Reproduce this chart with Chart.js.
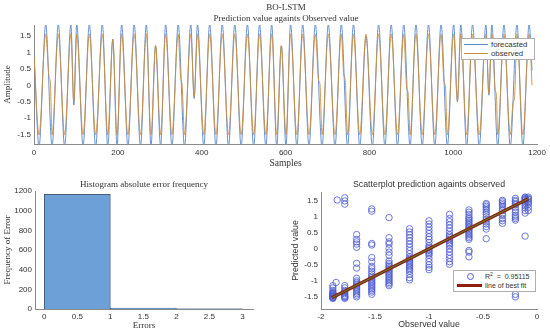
<!DOCTYPE html>
<html>
<head>
<meta charset="utf-8">
<script src="https://cdn.jsdelivr.net/npm/chart.js@4.4.1/dist/chart.umd.min.js"></script>
<style>
  body { margin:0; background:#fff; }
  #wrap { position:relative; width:550px; height:334px; overflow:hidden; background:#fff; }
  #wrap canvas { position:absolute; }
  .ttl { position:absolute; font-family:'Liberation Serif','Times New Roman',serif; font-size:9px; line-height:1; color:#333; white-space:nowrap; transform:translate(-50%,-50%); }
  .ttl.sans { font-family:'Liberation Sans',Arial,sans-serif; font-size:8.8px; }
  .leg { position:absolute; background:#fff; border:1px solid #b0b0b0; font-family:'Liberation Sans',Arial,sans-serif; color:#333; }
  .leg .row { position:relative; white-space:nowrap; }
  .leg .ln { position:absolute; }
</style>
</head>
<body>
<div id="wrap">
  <canvas id="chart-top" width="550" height="170" style="left:0;top:0"></canvas>
  <canvas id="chart-hist" width="275" height="164" style="left:0;top:170px"></canvas>
  <canvas id="chart-scat" width="275" height="164" style="left:275px;top:170px"></canvas>

  <div class="ttl" style="left:286px;top:7px">BO-LSTM</div>
  <div class="ttl" style="left:286px;top:17.5px">Prediction value againts Observed value</div>
  <div class="ttl" style="left:144px;top:184px">Histogram absolute error frequency</div>
  <div class="ttl sans" style="left:429px;top:184px">Scatterplot prediction againts observed</div>

  <div class="leg" id="legend-top" style="left:461px;top:38px;width:72px;height:20px;font-size:7.8px"></div>
  <div class="leg" id="legend-scat" style="left:453px;top:270px;width:81px;height:20px;font-size:7px"></div>
</div>

<script>
// ── DATA ──
// top panel: turning points (sample index, amplitude)
var fcX = [0, 12, 28, 43, 58, 73, 88, 95, 102, 117, 132, 147, 163, 176, 188, 198, 209, 224, 239, 254, 268, 279, 290, 302,
           314, 329, 344, 359, 374, 382, 390, 405, 419, 434, 449, 464, 479, 494, 509, 524, 538, 553, 567, 579, 590, 601,
           612, 627, 641, 656, 671, 687, 702, 718, 733, 748, 762, 777, 792, 807, 822, 837, 852, 867, 882, 897, 911, 926,
           941, 956, 971, 986, 1001, 1010, 1018, 1032, 1046, 1062, 1078, 1085, 1092, 1106, 1121, 1136, 1152, 1166, 1181, 1188];
var fcY = [1.0, -1.85, 1.85, -1.85, 1.85, -1.85, 1.85, -0.6, 1.85, -1.85, 1.85, -1.85, 1.85, -1.85, 1.4, -1.85, 1.85, -1.85, 1.85, -1.85, 1.85, -1.85, 1.2, -1.85,
           1.85, -1.85, 1.85, -1.85, 1.85, -0.4, 1.85, -1.85, 1.85, -1.85, 1.85, -1.85, 1.85, -1.85, 1.85, -1.85, 1.85, -1.85, 1.85, -1.85, 1.2, -1.85,
           1.85, -1.85, 1.85, -1.85, 1.85, -1.85, 1.85, -1.85, 1.85, -1.85, 1.85, -1.85, 1.5, -1.85, 1.85, -1.85, 1.85, -1.85, 1.85, -1.85, 1.85, -1.85,
           1.85, -1.85, 1.85, -1.85, 1.85, -0.5, 1.85, -1.85, 1.85, -1.85, 1.85, -0.3, 1.85, -1.85, 1.85, -1.85, 1.85, -1.85, 1.85, 0.45];

var obX = [0, 12, 28, 36, 39, 43, 58, 73, 88, 95, 102, 117, 132, 147, 163, 176, 188, 198, 209, 224, 239, 254, 268, 279, 290, 302,
           314, 329, 344, 350, 353, 359, 374, 382, 390, 405, 419, 434, 449, 464, 479, 494, 509, 524, 538, 553, 567, 579, 590, 601,
           612, 627, 641, 656, 671, 679, 682, 687, 702, 718, 733, 739, 742, 748, 762, 777, 792, 807, 822, 837, 852, 867, 882, 889, 892, 897,
           911, 926, 941, 956, 971, 978, 981, 986, 1001, 1010, 1018, 1032, 1046, 1062, 1078, 1085, 1092, 1100, 1103, 1106, 1121, 1136,
           1143, 1146, 1152, 1166, 1181, 1188];
var obY = [0.9, -1.5, 1.55, 0.25, 0.1, -1.5, 1.55, -1.5, 1.55, -0.5, 1.55, -1.5, 1.55, -1.5, 1.55, -1.5, 1.4, -1.5, 1.55, -1.5, 1.55, -1.5, 1.55, -1.5, 1.2, -1.5,
           1.55, -1.5, 1.55, 0.2, 0.05, -1.5, 1.55, -0.35, 1.55, -1.5, 1.55, -1.5, 1.55, -1.5, 1.55, -1.5, 1.55, -1.5, 1.55, -1.5, 1.55, -1.5, 1.2, -1.5,
           1.55, -1.5, 1.55, -1.5, 1.55, 0.15, 0.05, -1.5, 1.55, -1.5, 1.55, 0.3, 0.2, -1.5, 1.55, -1.5, 1.55, -1.5, 1.55, -1.5, 1.55, -1.5, 1.55, -0.1, -0.2, -1.5,
           1.55, -1.5, 1.55, -1.5, 1.55, 0.1, 0.0, -1.5, 1.55, -0.45, 1.55, -1.5, 1.55, -1.5, 1.55, -0.25, 1.55, -0.15, -0.3, -1.5, 1.55, -1.5,
           -0.5, -0.4, 1.55, -1.5, 1.55, 0.0];

// histogram of absolute errors
var binCenters = [0.5, 1.5, 2.5];
var binCounts  = [1166, 10, 3];

// scatter: observed value columns and the predicted values seen in each column
var colX = [-1.89, -1.78, -1.67, -1.53, -1.37, -1.18, -1.0, -0.81, -0.63, -0.47, -0.32, -0.2, -0.11, -0.08];
var colPred = [
  [-1.15, -1.22, -1.3, -1.36, -1.42, -1.46, -1.5, -1.52, -1.55, -1.48, -1.44, -1.4, -1.38, -1.53],
  [1.6, 1.5, 1.4, -1.15, -1.22, -1.3, -1.35, -1.4, -1.45, -1.5, -1.52, -1.55, -1.48],
  [0.45, 0.3, 0.22, 0.15, 0.05, -0.45, -0.6, -0.92, -1.0, -1.05, -1.1, -1.15, -1.2, -1.25, -1.3, -1.35, -1.4, -1.45, -1.5],
  [1.25, 1.18, 0.17, 0.12, -0.27, -0.4, -0.55, -0.62, -0.7, -0.78, -0.85, -0.9, -0.95, -1.0, -1.05, -1.1, -1.15, -1.2, -1.25, -1.3, -1.35, -1.42],
  [0.98, 0.35, 0.22, 0.15, 0.02, -0.1, -0.2, -0.38, -0.45, -0.5, -0.55, -0.6, -0.65, -0.7, -0.75, -0.8, -0.85, -0.9, -0.95, -1.0, -1.05, -1.1, -1.15],
  [0.63, 0.53, 0.44, 0.35, 0.25, 0.15, 0.05, -0.05, -0.15, -0.25, -0.3, -0.35, -0.4, -0.45, -0.5, -0.55, -0.6, -0.65, -0.7, -0.8, -0.9, -0.97],
  [0.88, 0.78, 0.68, 0.58, 0.48, 0.38, 0.3, 0.2, 0.1, 0.05, 0.0, -0.05, -0.1, -0.15, -0.2, -0.3, -0.4, -0.5, -0.58, -0.65],
  [1.08, 0.95, 0.85, 0.75, 0.65, 0.55, 0.45, 0.4, 0.35, 0.3, 0.25, 0.2, 0.15, 0.1, 0.0, -0.1, -0.2, -0.3, -0.4, -0.48],
  [1.22, 1.15, 1.08, 1.0, 0.95, 0.9, 0.85, 0.8, 0.75, 0.7, 0.65, 0.6, 0.55, 0.5, 0.45, 0.4, 0.35, 0.3, -0.05, -0.1, -0.25],
  [1.42, 1.38, 1.33, 1.28, 1.22, 1.15, 1.08, 1.0, 0.92, 0.85, 0.78, 0.7, 0.62, 0.32],
  [1.52, 1.48, 1.43, 1.38, 1.33, 1.25, 1.2, 1.1, 1.05, 0.95, 0.88, 0.8],
  [1.58, 1.52, 1.48, 1.42, 1.38, 1.3, 1.22, 1.15, 1.05, 1.0, 0.95, 0.9, -1.42, -1.5],
  [1.62, 1.6, 1.57, 1.55, 1.52, 1.48, 1.42, 1.35, 1.28, 1.2, 1.12, 0.4],
  [1.62, 1.58, 1.55, 1.5, 1.45, 1.4, 1.3, 1.2]
];
var outX = [-1.85, -1.86];
var outY = [1.53, -1.05];

// best fit line end points, R^2 from the legend
var fitX = [-1.9, -0.08];
var fitY = [-1.53, 1.57];
var r2Text = '0.95115';

// ── STYLE ──
var SERIF = "'Liberation Serif', 'Times New Roman', serif";
var SANS  = "'Liberation Sans', Arial, sans-serif";
var AX = '#8a8a8a';
var C_FC = 'rgb(86,134,204)', C_OB = 'rgb(204,142,62)';
var C_BAR = 'rgb(108,160,215)', C_EDGE = '#3b4763';
var C_PT = '#4a5ad0', C_FIT = '#8e1f0d', C_FIT2 = '#5b8a2e';

Chart.defaults.animation = false;
Chart.defaults.font.family = SANS;
Chart.defaults.font.size = 8;
Chart.defaults.color = '#333';

function pts(xs, ys) { return xs.map(function(x, i){ return { x: x, y: ys[i] }; }); }
function fixW(w) { return function(s){ s.width = w; }; }
function fixH(h) { return function(s){ s.height = h; }; }
function plain(v) { return String(Math.round(v * 100) / 100); }

function axis(o) {
  return {
    type: 'linear', min: o.min, max: o.max, offset: false,
    grid: { display: false, drawTicks: false },
    border: { color: AX, width: 1 },
    afterFit: o.fit,
    ticks: { stepSize: o.step, includeBounds: false, autoSkip: false, maxRotation: 0, padding: o.pad, callback: plain },
    title: { display: true, text: o.title, font: { family: o.font, size: o.size }, padding: o.tpad }
  };
}

var baseOpts = {
  responsive: false, animation: false, events: [],
  plugins: { legend: { display: false }, tooltip: { enabled: false } }
};
function opts(pad, scales) {
  return Object.assign({}, baseOpts, { layout: { padding: pad }, scales: scales });
}

// ── TOP: forecast vs observed ──
new Chart(document.getElementById('chart-top').getContext('2d'), {
  type: 'line',
  data: { datasets: [
    { label: 'forecasted', data: pts(fcX, fcY), borderColor: C_FC, borderWidth: 0.9, pointRadius: 0, cubicInterpolationMode: 'monotone', order: 2 },
    { label: 'observed',   data: pts(obX, obY), borderColor: C_OB, borderWidth: 0.9, pointRadius: 0, cubicInterpolationMode: 'monotone', order: 1 }
  ]},
  options: opts({ left: 0, right: 12, top: 25, bottom: 0 }, {
    x: axis({ min: 0, max: 1200, step: 200, pad: 4, fit: fixH(26), title: 'Samples', font: SERIF, size: 9.5, tpad: { top: 0, bottom: 1.3 } }),
    y: axis({ min: -1.78, max: 1.83, step: 0.5, pad: 3, fit: fixW(34), title: 'Amplitude', font: SERIF, size: 9, tpad: { top: 2.6, bottom: 0 } })
  })
});

// ── HISTOGRAM ──
new Chart(document.getElementById('chart-hist').getContext('2d'), {
  type: 'bar',
  data: { datasets: [{
    data: pts(binCenters, binCounts), backgroundColor: C_BAR, borderColor: C_EDGE, borderWidth: 0.8,
    barThickness: 'flex', barPercentage: 1, categoryPercentage: 1
  }]},
  options: opts({ left: 0, right: 22, top: 21, bottom: 0 }, {
    x: axis({ min: -0.14, max: 3.16, step: 0.5, pad: 3, fit: fixH(25), title: 'Errors', font: SERIF, size: 9, tpad: { top: 0, bottom: 2.9 } }),
    y: axis({ min: 0, max: 1200, step: 200, pad: 3, fit: fixW(35), title: 'Frequency of Error', font: SERIF, size: 9, tpad: { top: 2, bottom: 0 } })
  })
});

// ── SCATTER ──
var scatPts = [];
colX.forEach(function(x, i){ colPred[i].forEach(function(y){ scatPts.push({ x: x, y: y }); }); });
scatPts = scatPts.concat(pts(outX, outY));

new Chart(document.getElementById('chart-scat').getContext('2d'), {
  type: 'scatter',
  data: { datasets: [
    { data: scatPts, pointStyle: 'circle', pointRadius: 3.2, borderColor: C_PT, borderWidth: 0.8, backgroundColor: 'rgba(0,0,0,0)', order: 3 },
    { type: 'line', data: pts(fitX, fitY), borderColor: C_FIT, borderWidth: 3.5, pointRadius: 0, order: 2 },
    { type: 'line', data: pts(fitX, fitY), borderColor: C_FIT2, borderWidth: 1, pointRadius: 0, order: 1 }
  ]},
  options: opts({ left: 0, right: 13, top: 22, bottom: 0 }, {
    x: axis({ min: -2, max: 0, step: 0.5, pad: 3, fit: fixH(25), title: 'Observed value', font: SANS, size: 8.8, tpad: { top: 0, bottom: 3.7 } }),
    y: axis({ min: -1.88, max: 1.78, step: 0.5, pad: 3, fit: fixW(46), title: 'Predicted value', font: SANS, size: 8.8, tpad: { top: 15, bottom: 0 } })
  })
});

// ── LEGENDS ──
document.getElementById('legend-top').innerHTML =
  '<div class="row" style="height:9px;line-height:9px;margin-top:1px"><span class="ln" style="left:2px;top:4px;width:24px;height:1px;background:' + C_FC + '"></span><span style="position:absolute;left:29px">forecasted</span></div>' +
  '<div class="row" style="height:9px;line-height:9px"><span class="ln" style="left:2px;top:4px;width:24px;height:1px;background:' + C_OB + '"></span><span style="position:absolute;left:29px">observed</span></div>';

document.getElementById('legend-scat').innerHTML =
  '<div class="row" style="height:9px;line-height:9px;margin-top:1px"><span class="ln" style="left:13px;top:1px;width:5px;height:5px;border:1px solid ' + C_PT + ';border-radius:50%"></span>' +
    '<span style="position:absolute;left:31px">R<sup style="font-size:5px;line-height:0">2</sup> &nbsp;= &nbsp;' + r2Text + '</span></div>' +
  '<div class="row" style="height:9px;line-height:9px"><span class="ln" style="left:3px;top:3px;width:25px;height:3px;background:' + C_FIT + '"></span><span style="position:absolute;left:31px">line of best fit</span></div>';
</script>
</body>
</html>
